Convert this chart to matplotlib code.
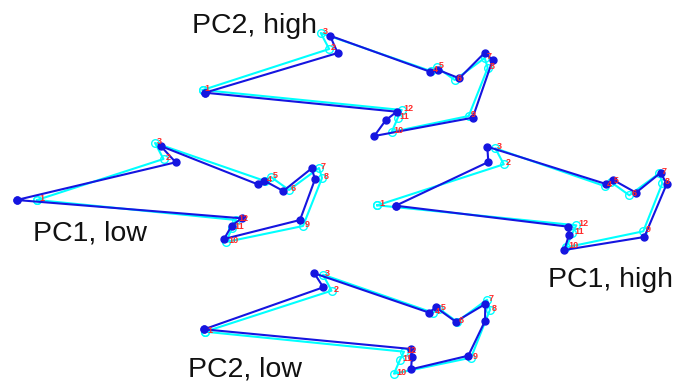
import numpy as np
import matplotlib
matplotlib.use("Agg")
import matplotlib.pyplot as plt

plt.rcParams['font.family'] = ['Liberation Sans', 'DejaVu Sans']

# mean shape (cyan), landmark 1..12, relative to landmark 1
mean_x = [0, 126.5, 118, 228, 234, 252, 282, 285, 266, 189, 195, 199]
mean_y = [0, -41, -57, -19, -23, -10, -32, -22, 26, 42, 28, 20]

panel_names = ["PC2, high", "PC1, low", "PC1, high", "PC2, low"]
# where landmark 1 of the mean shape sits in each panel
offset_x = [202.7, 37, 377.3, 205]
offset_y = [90, 200, 205.3, 331.7]

# deformed shapes (blue)
pc2_high_x = [205, 337.7, 330, 430, 438.3, 459.3, 484.7, 492.7, 472.7, 374.3, 385.7, 396.7]
pc2_high_y = [92.7, 53, 35.7, 71.7, 70, 78.3, 52.7, 60, 117.7, 136, 120.3, 111.7]
pc1_low_x = [16.7, 175.7, 160.7, 257.7, 264.3, 283.3, 311.7, 315, 300, 224, 231.7, 241.7]
pc1_low_y = [200, 162.3, 146, 184.3, 180.7, 191, 168.3, 179.3, 220, 239, 225.7, 218.3]
pc1_high_x = [395.7, 488.3, 487.3, 606, 613.3, 636, 660.7, 666.7, 644.3, 564.3, 569, 568.3]
pc1_high_y = [205.7, 162, 146.7, 184, 180, 192.7, 172.7, 184, 237, 250, 235, 226.7]
pc2_low_x = [204, 323.3, 314.3, 429.3, 435.7, 455.7, 485.3, 485, 468.3, 411, 412, 411]
pc2_low_y = [329.3, 287.3, 273.3, 312.7, 307.3, 321.7, 304, 321, 355.7, 369.3, 356.7, 349]

shapes_x = [pc2_high_x, pc1_low_x, pc1_high_x, pc2_low_x]
shapes_y = [pc2_high_y, pc1_low_y, pc1_high_y, pc2_low_y]

# panel label anchor (left, baseline)
label_pos = [(192, 33), (33, 240), (548, 287), (188, 376)]

fig = plt.figure(figsize=(6.89, 3.81), dpi=100)
ax = fig.add_axes([0, 0, 1, 1])
ax.set_xlim(0, 689)
ax.set_ylim(381, 0)
ax.axis('off')

for i in range(4):
    mx = np.array(mean_x) + offset_x[i]
    my = np.array(mean_y) + offset_y[i]
    sx = np.array(shapes_x[i])
    sy = np.array(shapes_y[i])
    ax.plot(np.append(mx, mx[0]), np.append(my, my[0]), '-o', color='cyan',
            lw=1.5, ms=5.5, mfc='none', mew=1)
    ax.plot(np.append(sx, sx[0]), np.append(sy, sy[0]), '-o', color='#1515e0',
            lw=1.5, ms=5, mfc='#1515e0', mec='#1515e0')
    for k in range(12):
        ax.text(mx[k] + 2, my[k] - 1.5, str(k + 1), color='#ff2a2a', fontsize=6.5,
                fontweight='bold', ha='left', va='center')
    lx, ly = label_pos[i]
    ax.text(lx, ly, panel_names[i], fontsize=20.5, ha='left', va='baseline',
            color='#111111')

fig.savefig("out.png", dpi=100)
